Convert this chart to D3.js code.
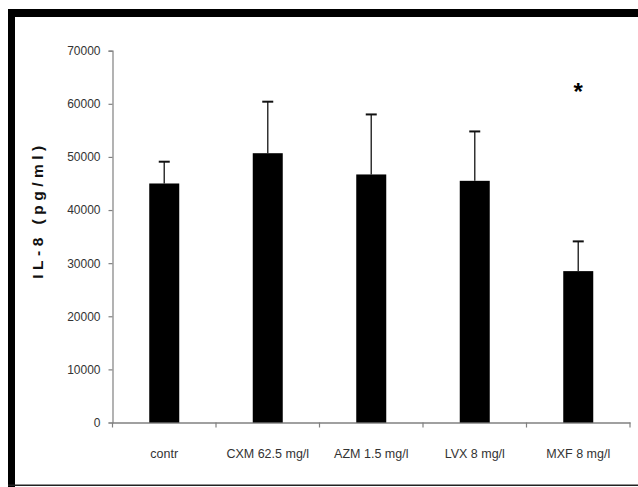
<!DOCTYPE html>
<html><head><meta charset="utf-8">
<script src="https://cdn.jsdelivr.net/npm/d3@7"></script>
<style>html,body{margin:0;padding:0;background:#fff;overflow:hidden}</style>
</head><body>
<script>
const categories = ["contr", "CXM 62.5 mg/l", "AZM 1.5 mg/l", "LVX 8 mg/l", "MXF 8 mg/l"];
const means = [45000, 50700, 46700, 45500, 28500];
const upperErr = [49100, 60400, 58000, 54800, 34100];
const significant = [false, false, false, false, true];
const yTicks = [0, 10000, 20000, 30000, 40000, 50000, 60000, 70000];
const yLabel = "IL-8 (pg/ml)";

const W = 638, H = 487;
const svg = d3.select("body").append("svg").attr("width", W).attr("height", H);

// frame
svg.append("rect").attr("x", 8).attr("y", 9).attr("width", W - 8).attr("height", 8).attr("fill", "#000");
svg.append("rect").attr("x", 8).attr("y", 9).attr("width", 7).attr("height", H - 9).attr("fill", "#000");
svg.append("rect").attr("x", 8).attr("y", 484.5).attr("width", W - 8).attr("height", 1.5).attr("fill", "#222");

const x = d3.scaleBand().domain(categories).range([112.5, 630]).paddingInner(0).paddingOuter(0);
const y = d3.scaleLinear().domain([0, 70000]).range([422.5, 50.7]);

const font = "'Liberation Sans', Arial, sans-serif";

// y axis
const yAxis = svg.append("g").attr("transform", "translate(112.5,0)")
  .call(d3.axisLeft(y).tickValues(yTicks).tickSize(4).tickPadding(8).tickFormat(d3.format("d")));
yAxis.select(".domain").attr("stroke", "#808080").attr("stroke-width", 1.2);
yAxis.selectAll(".tick line").attr("stroke", "#808080").attr("stroke-width", 1.2);
yAxis.selectAll("text").attr("font-family", font).attr("font-size", 12).attr("fill", "#333");

// x axis
const xAxis = svg.append("g").attr("transform", "translate(0,422.5)")
  .call(d3.axisBottom(x).tickSize(0).tickPadding(27));
xAxis.select(".domain").attr("stroke", "#808080").attr("stroke-width", 1.6);
xAxis.selectAll("text").attr("font-family", font).attr("font-size", 12.5).attr("fill", "#333");
// category boundary ticks
const bounds = categories.map(c => x(c)).concat([x.range()[1]]);
svg.append("g").selectAll("line").data(bounds).join("line")
  .attr("x1", d => d).attr("x2", d => d)
  .attr("y1", 422.5).attr("y2", 427.5)
  .attr("stroke", "#808080").attr("stroke-width", 1.2);

const barW = 30;
const cx = c => x(c) + x.bandwidth() / 2;

// error bars
const eg = svg.append("g");
categories.forEach((c, i) => {
  eg.append("line").attr("x1", cx(c)).attr("x2", cx(c))
    .attr("y1", y(means[i])).attr("y2", y(upperErr[i]))
    .attr("stroke", "#333").attr("stroke-width", 1.5);
  eg.append("line").attr("x1", cx(c) - 5.5).attr("x2", cx(c) + 5.5)
    .attr("y1", y(upperErr[i])).attr("y2", y(upperErr[i]))
    .attr("stroke", "#111").attr("stroke-width", 2);
});

// bars
svg.append("g").selectAll("rect").data(categories).join("rect")
  .attr("x", d => cx(d) - barW / 2)
  .attr("y", (d, i) => y(means[i]))
  .attr("width", barW)
  .attr("height", (d, i) => y(0) - y(means[i]))
  .attr("fill", "#000");

// significance star
svg.append("g").selectAll("text").data(categories.filter((c, i) => significant[i])).join("text")
  .attr("x", d => cx(d))
  .attr("y", 100)
  .attr("text-anchor", "middle")
  .attr("font-family", font).attr("font-weight", "bold").attr("font-size", 24)
  .text("*");

// y label
svg.append("text")
  .attr("transform", "translate(43,210) rotate(-90)")
  .attr("text-anchor", "middle")
  .attr("font-family", font).attr("font-weight", "bold").attr("font-size", 15.5)
  .attr("letter-spacing", 4.5)
  .attr("fill", "#111")
  .text(yLabel);
</script>
</body></html>
